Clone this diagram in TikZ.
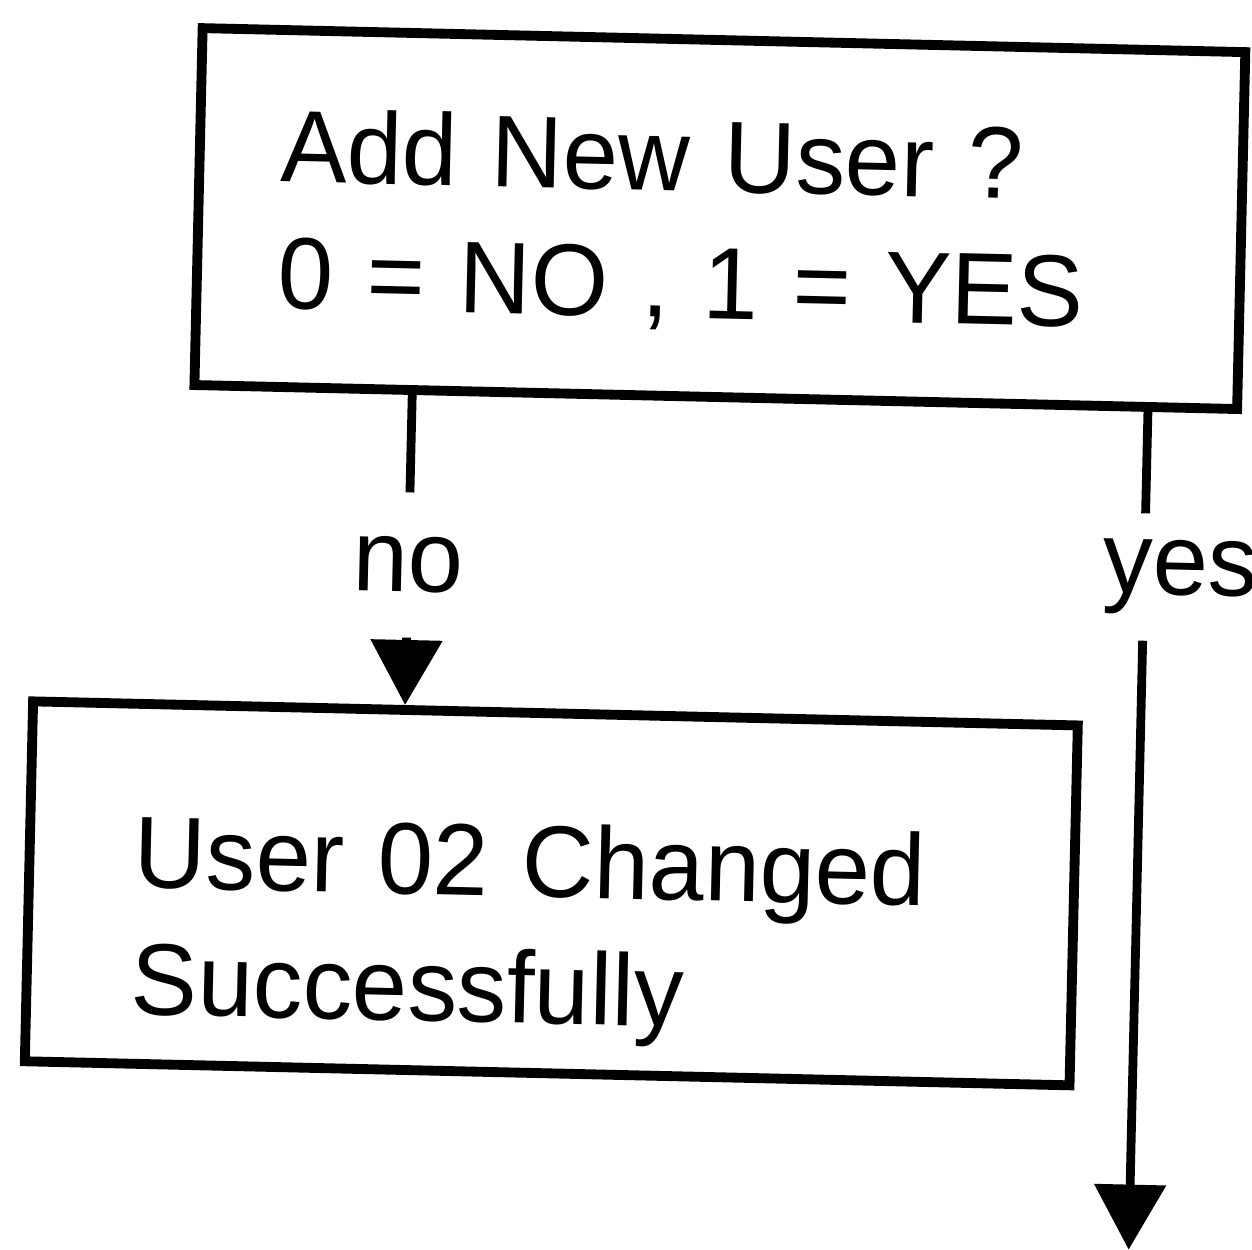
\documentclass[tikz,border=0pt]{standalone}
\usepackage{fontspec}
\setmainfont{Liberation Sans}[FakeStretch=0.975]
\usetikzlibrary{arrows.meta}

\begin{document}
\begin{tikzpicture}[
msgbox/.style={draw, line width=2.8pt, align=left, font=\fontsize{29}{36}\selectfont, transform shape},
choice/.style={font=\fontsize{29}{36}\selectfont, transform shape},
flowline/.style={line width=2.5pt},
flowarrow/.style={line width=2.5pt, -{Triangle[width=0.7cm,length=0.65cm]}}
]
\useasboundingbox (0,0) rectangle (12.52,-12.49);

% the scan is slightly tilted
\begin{scope}[rotate around={-1.32:(6.26,-6.25)}]
\node[msgbox, minimum width=10.43cm, minimum height=3.57cm, text width=8.81cm, inner xsep=0.81cm, inner ysep=0.1cm, text height=0.8cm, text depth=1.33cm] (ask) at (7.105,-2.165) {Add New User ?\\0 = NO , 1 = YES};

\node[msgbox, minimum width=10.45cm, minimum height=3.6cm, text width=8.35cm, inner xsep=1.05cm, inner ysep=0.1cm, text height=0.8cm, text depth=0.72cm] (done) at (5.575,-8.95) {User 02 Changed\\Successfully};

\node[choice, anchor=base, inner sep=0.44cm] (nolbl) at (4.07,-5.97) {no};
\node[choice, anchor=base west, inner xsep=0pt, inner ysep=0.25cm] (yeslbl) at (11.01,-5.82) {yes};

\coordinate (yescol) at (11.43,-5);
\coordinate (exit) at (11.43,-12.38);

\draw[flowline] (ask.south -| nolbl) -- (nolbl);
\draw[flowarrow] (nolbl) -- (nolbl |- done.north);
\draw[flowline] (ask.south -| yescol) -- (yeslbl.north -| yescol);
\draw[flowarrow] (yeslbl.south -| yescol) -- (exit);
\end{scope}

\end{tikzpicture}
\end{document}
